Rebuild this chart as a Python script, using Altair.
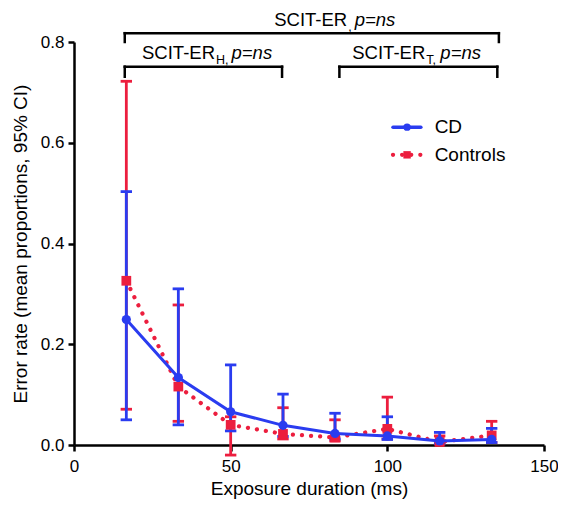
import altair as alt
import pandas as pd

# ---------------- data ----------------
exposure_ms = [16.7, 33.3, 50.0, 66.7, 83.3, 100.0, 116.7, 133.3]

cd_mean = [0.249, 0.134, 0.066, 0.039, 0.023, 0.018, 0.008, 0.011]
cd_lo = [0.050, 0.040, 0.028, 0.017, 0.012, 0.011, 0.003, 0.005]
cd_hi = [0.503, 0.310, 0.159, 0.101, 0.063, 0.056, 0.025, 0.033]

ctrl_mean = [0.326, 0.116, 0.040, 0.022, 0.015, 0.032, 0.006, 0.019]
ctrl_lo = [0.071, 0.047, -0.020, 0.012, 0.008, 0.012, 0.002, 0.005]
ctrl_hi = [0.722, 0.278, 0.056, 0.074, 0.050, 0.095, 0.018, 0.047]

series_names = ["CD", "Controls"]
x_ticks = [0, 50, 100, 150]
y_ticks = [0.0, 0.2, 0.4, 0.6, 0.8]

# comparison brackets (ms span, bracket height, tick end height)
bracket_x0 = [16.2, 16.2, 84.7]
bracket_x1 = [135.6, 66.4, 135.1]
bracket_ytop = [0.8175, 0.751, 0.751]
bracket_yend = [0.800, 0.731, 0.731]
bracket_main = ["SCIT-ER", "SCIT-ER", "SCIT-ER"]
bracket_sub = [",", "H,", "T,"]
bracket_p = ["p=ns", "p=ns", "p=ns"]
label_anchor = [87.2, 45.0, 112.1]
label_y = [0.832, 0.767, 0.767]

# legend rows
legend_y = [0.631, 0.576]

BLUE = "#2a3cf0"
RED = "#ec1e3e"
FONT = "Liberation Sans"

# ---------------- scales / axes ----------------
xs = alt.Scale(domain=[0, 150], nice=False, zero=False)
ys = alt.Scale(domain=[0, 0.8], nice=False, zero=False)

xax = alt.Axis(
    values=x_ticks, title="Exposure duration (ms)", grid=False,
    domainColor="black", domainWidth=2.5, tickColor="black", tickWidth=2.5,
    tickSize=6, labelFont=FONT, labelFontSize=17, labelColor="black",
    labelPadding=7, titleFont=FONT, titleFontSize=19, titleFontWeight="normal",
    titleColor="black", titleY=34, titleBaseline="top", labelFlush=False,
)
yax = alt.Axis(
    values=y_ticks, format=".1f", title="Error rate (mean proportions, 95% CI)",
    grid=False, domainColor="black", domainWidth=2.5, tickColor="black",
    tickWidth=2.5, tickSize=6, labelFont=FONT, labelFontSize=17,
    labelColor="black", labelPadding=4, titleFont=FONT, titleFontSize=19,
    titleFontWeight="normal", titleColor="black", titleX=-44, labelFlush=False,
)


def X(f):
    return alt.X(f"{f}:Q", scale=xs, axis=xax)


def Y(f):
    return alt.Y(f"{f}:Q", scale=ys, axis=yax)


def series_layers(mean, lo, hi, color, dash, width, shape, size):
    df = pd.DataFrame({"ms": exposure_ms, "mean": mean, "lo": lo, "hi": hi})
    base = alt.Chart(df)
    bars = base.mark_rule(color=color, strokeWidth=2.8).encode(
        x=X("ms"), y=Y("lo"), y2=alt.Y2("hi"))
    caps = base.transform_fold(["lo", "hi"], as_=["k", "v"]).mark_point(
        shape="M-1,0L1,0", size=130, filled=False, color=color,
        strokeWidth=2.8, opacity=1).encode(x=X("ms"), y=Y("v"))
    line_kw = dict(color=color, strokeWidth=width, strokeCap="round")
    if dash:
        line_kw["strokeDash"] = dash
    line = base.mark_line(**line_kw).encode(x=X("ms"), y=Y("mean"))
    pts = base.mark_point(shape=shape, size=size, filled=True, color=color,
                          opacity=1).encode(x=X("ms"), y=Y("mean"))
    return [bars, caps], [line, pts]


cd_bars, cd_marks = series_layers(cd_mean, cd_lo, cd_hi, BLUE, None, 3, "circle", 85)
ct_bars, ct_marks = series_layers(ctrl_mean, ctrl_lo, ctrl_hi, RED, [0.1, 9], 4.2, "square", 95)

# ---------------- brackets ----------------
bdf = pd.DataFrame({"x0": bracket_x0, "x1": bracket_x1,
                    "yt": bracket_ytop, "ye": bracket_yend})
b_h = alt.Chart(bdf).mark_rule(color="black", strokeWidth=2.5, strokeCap="square").encode(
    x=X("x0"), x2=alt.X2("x1"), y=Y("yt"))
b_l = alt.Chart(bdf).mark_rule(color="black", strokeWidth=2.5, strokeCap="square").encode(
    x=X("x0"), y=Y("yt"), y2=alt.Y2("ye"))
b_r = alt.Chart(bdf).mark_rule(color="black", strokeWidth=2.5, strokeCap="square").encode(
    x=X("x1"), y=Y("yt"), y2=alt.Y2("ye"))

label_layers = []
sub_px = {",": 3.5, "H,": 12.5, "T,": 11.1}
for main, sub, pv, ax, ay in zip(bracket_main, bracket_sub, bracket_p, label_anchor, label_y):
    ldf = pd.DataFrame({"x": [ax], "y": [ay], "main": [main], "sub": [sub], "p": [pv]})
    lb = alt.Chart(ldf)
    label_layers.append(lb.mark_text(align="right", baseline="alphabetic", font=FONT,
                                     fontSize=18.5, color="black").encode(
        x=X("x"), y=Y("y"), text="main:N"))
    label_layers.append(lb.mark_text(align="left", baseline="alphabetic", font=FONT,
                                     fontSize=12.5, color="black", dx=1, dy=5).encode(
        x=X("x"), y=Y("y"), text="sub:N"))
    label_layers.append(lb.mark_text(align="left", baseline="alphabetic", font=FONT,
                                     fontSize=18.5, fontStyle="italic", color="black",
                                     dx=sub_px[sub] + 4).encode(
        x=X("x"), y=Y("y"), text="p:N"))

# ---------------- legend (drawn in data space) ----------------
leg_x0, leg_x1, leg_xm, leg_xt = 101.8, 110.7, 106.3, 115.1
legend_layers = []
for name, ly, color, dash, w, shape, size in [
        ("CD", legend_y[0], BLUE, None, 3.5, "circle", 55),
        ("Controls", legend_y[1], RED, [0.1, 9], 4.2, "square", 55)]:
    ldf = pd.DataFrame({"x0": [leg_x0], "x1": [leg_x1], "xm": [leg_xm],
                        "xt": [leg_xt], "y": [ly], "name": [name]})
    lb = alt.Chart(ldf)
    kw = dict(color=color, strokeWidth=w, strokeCap="round")
    if dash:
        kw["strokeDash"] = dash
    legend_layers.append(lb.mark_rule(**kw).encode(x=X("x0"), x2=alt.X2("x1"), y=Y("y")))
    legend_layers.append(lb.mark_point(shape=shape, size=size, filled=True, color=color,
                                       opacity=1).encode(x=X("xm"), y=Y("y")))
    legend_layers.append(lb.mark_text(align="left", baseline="middle", font=FONT,
                                      fontSize=19, color="black").encode(
        x=X("xt"), y=Y("y"), text="name:N"))

chart = alt.layer(
    *ct_bars, *cd_bars, *ct_marks, *cd_marks, b_h, b_l, b_r,
    *label_layers, *legend_layers,
).properties(
    width=470, height=403,
    autosize=alt.AutoSizeParams(type="none"),
    padding={"left": 66, "top": 34, "right": 14, "bottom": 57},
).configure_view(stroke=None)

chart.save("out.html", embed_options={"renderer": "svg", "actions": False})
